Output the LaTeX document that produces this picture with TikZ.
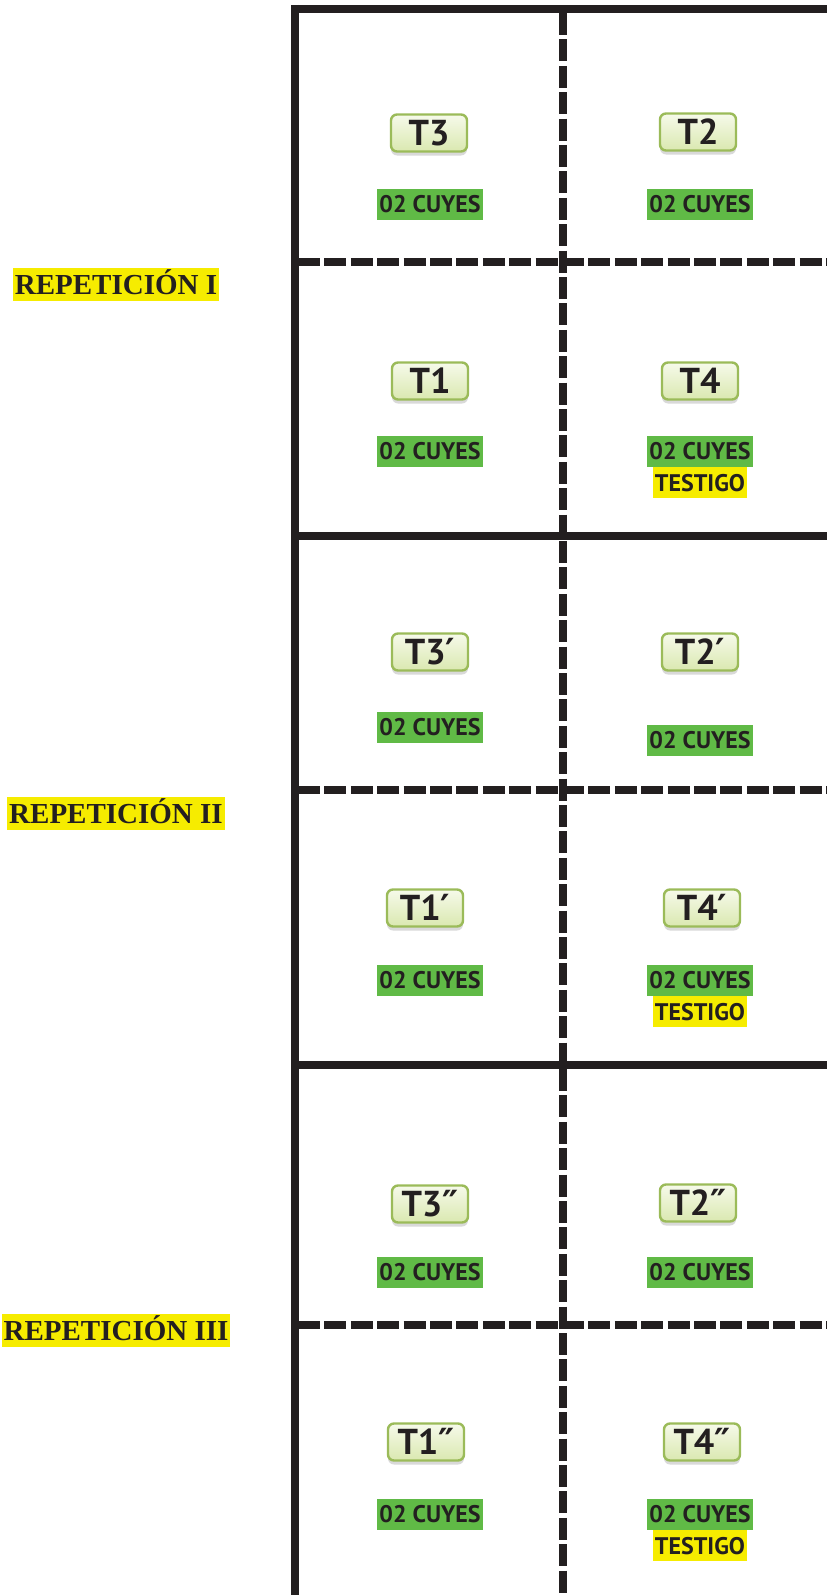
\documentclass[tikz,border=0pt]{standalone}
\usepackage{fontspec}
\setmainfont{Liberation Serif}
\newfontfamily\labfont{PT Sans}
\newfontfamily\primefont{DejaVu Sans}
\usetikzlibrary{shadows}
\definecolor{ink}{RGB}{35,31,32}
\definecolor{cuygreen}{RGB}{96,186,70}
\definecolor{hiyellow}{RGB}{246,236,0}
\definecolor{tborder}{RGB}{155,187,89}
\definecolor{ttop}{RGB}{246,250,234}
\definecolor{tbot}{RGB}{218,232,176}
\newcommand{\pone}{{\primefont\bfseries ′}}
\newcommand{\ptwo}{{\primefont\bfseries ″}}
\tikzset{
  solidline/.style={draw=ink, line width=4pt},
  dashline/.style={draw=ink, line width=3.6pt, dash pattern=on 11pt off 2.2pt},
  tbox/.style={draw=tborder, line width=1.2pt, rounded corners=3pt,
    top color=ttop, bottom color=tbot, minimum width=38pt, minimum height=18.5pt,
    inner sep=0pt, text height=12.5pt, text depth=0pt,
    font=\labfont\bfseries\fontsize{18}{18}\selectfont, text=ink,
    drop shadow={shadow xshift=0pt, shadow yshift=-2pt, opacity=0.25, fill=black!60}},
  cuy/.style={fill=cuygreen, inner xsep=1pt, inner ysep=0pt, text height=8.6pt,
    text depth=0pt, minimum height=15.5pt,
    font=\labfont\bfseries\fontsize{12}{12}\selectfont, text=ink},
  testigo/.style={cuy, fill=hiyellow},
  rep/.style={fill=hiyellow, inner xsep=1pt, inner ysep=0pt, minimum height=16.5pt,
    text height=10pt, text depth=0pt,
    font=\bfseries\fontsize{14.5}{16}\selectfont, text=ink}
}
\begin{document}
\begin{tikzpicture}[x=0.5pt, y=-0.5pt]
\useasboundingbox (0,0) rectangle (827,1595);
% frame coordinates
\coordinate (topL) at (291,9);
\coordinate (topR) at (827,9);
\coordinate (leftT) at (294.5,5);
\coordinate (leftB) at (294.5,1595);
\coordinate (midT) at (563,13);
\coordinate (midB) at (563,1595);
\coordinate (s1L) at (294.5,536);  \coordinate (s1R) at (827,536);
\coordinate (s2L) at (294.5,1065); \coordinate (s2R) at (827,1065);
\coordinate (d1L) at (298,262);    \coordinate (d1R) at (827,262);
\coordinate (d2L) at (298,790);    \coordinate (d2R) at (827,790);
\coordinate (d3L) at (298,1325);   \coordinate (d3R) at (827,1325);
% lines
\draw[dashline] (d1L) -- (d1R);
\draw[dashline] (d2L) -- (d2R);
\draw[dashline] (d3L) -- (d3R);
\draw[solidline] (s1L) -- (s1R);
\draw[solidline] (s2L) -- (s2R);
\draw[dashline] (midT) -- (midB);
\draw[solidline] (topL) -- (topR);
\draw[solidline] (leftT) -- (leftB);
% row 1
\node[tbox] (t3) at (429,133) {T3};
\node[tbox] (t2) at (698,132) {T2};
\node[cuy] (c3) at (430,204) {02 CUYES};
\node[cuy] (c2) at (700,204) {02 CUYES};
% row 2
\node[tbox] (t1) at (430,381) {T1};
\node[tbox] (t4) at (700,381) {T4};
\node[cuy] (c1) at (430,451) {02 CUYES};
\node[cuy] (c4) at (700,451) {02 CUYES};
\node[testigo, anchor=north] (w4) at (c4.south) {TESTIGO};
% row 3
\node[tbox] (t3p) at (430,652) {T3\pone};
\node[tbox] (t2p) at (700,652) {T2\pone};
\node[cuy] (c3p) at (430,727) {02 CUYES};
\node[cuy] (c2p) at (700,740) {02 CUYES};
% row 4
\node[tbox] (t1p) at (425,908) {T1\pone};
\node[tbox] (t4p) at (702,908) {T4\pone};
\node[cuy] (c1p) at (430,980) {02 CUYES};
\node[cuy] (c4p) at (700,980) {02 CUYES};
\node[testigo, anchor=north] (w4p) at (c4p.south) {TESTIGO};
% row 5
\node[tbox] (t3pp) at (430,1204) {T3\ptwo};
\node[tbox] (t2pp) at (698,1203) {T2\ptwo};
\node[cuy] (c3pp) at (430,1272) {02 CUYES};
\node[cuy] (c2pp) at (700,1272) {02 CUYES};
% row 6
\node[tbox] (t1pp) at (426,1442) {T1\ptwo};
\node[tbox] (t4pp) at (702,1442) {T4\ptwo};
\node[cuy] (c1pp) at (430,1514) {02 CUYES};
\node[cuy] (c4pp) at (700,1514) {02 CUYES};
\node[testigo, anchor=north] (w4pp) at (c4pp.south) {TESTIGO};
% repetition labels
\node[rep] (r1) at (116,284) {REPETICIÓN I};
\node[rep] (r2) at (116,813) {REPETICIÓN II};
\node[rep] (r3) at (116,1330) {REPETICIÓN III};
\end{tikzpicture}
\end{document}
